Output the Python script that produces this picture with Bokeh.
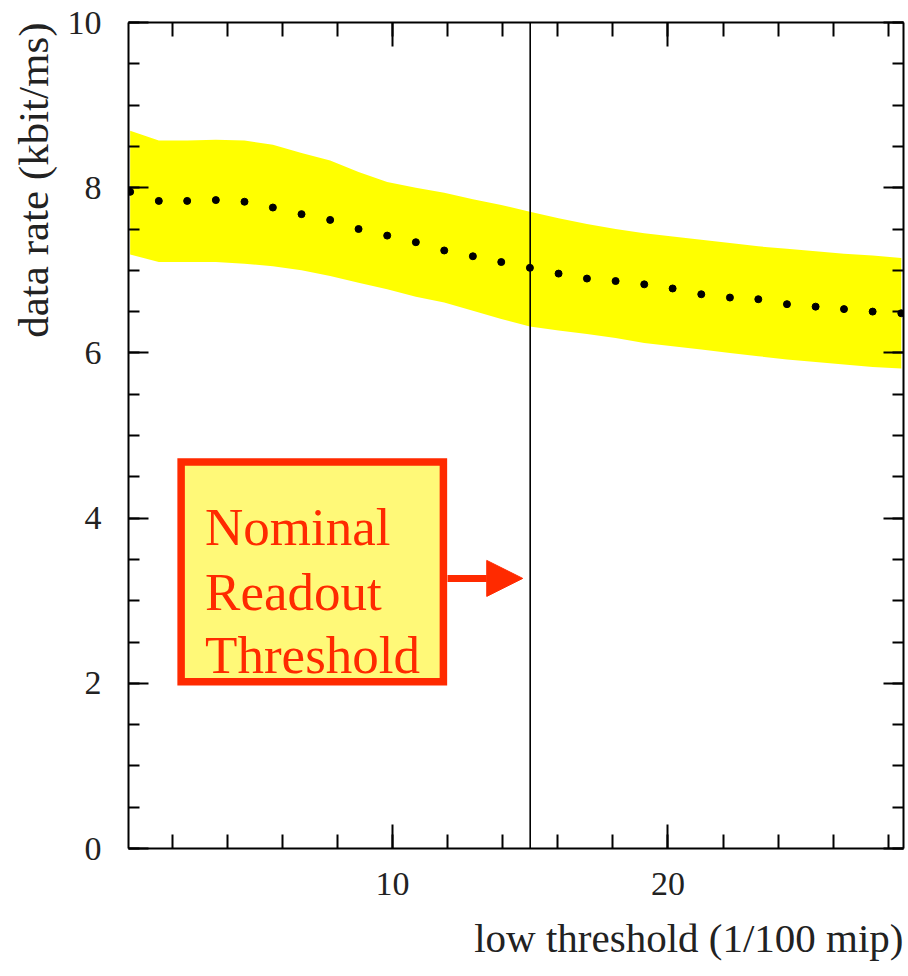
from bokeh.plotting import figure
from bokeh.models import (Range1d, LinearAxis, SingleIntervalTicker, Span, Arrow, NormalHead,
                          ColumnDataSource, CustomJSTickFormatter, Title)
from bokeh.core.properties import value
from bokeh.embed import file_html
from bokeh.resources import INLINE

# ---- data ----
threshold = [0.48, 1.52, 2.55, 3.59, 4.63, 5.66, 6.70, 7.74, 8.77, 9.81,
             10.85, 11.88, 12.92, 13.95, 14.99, 16.03, 17.06, 18.10, 19.14, 20.17,
             21.21, 22.25, 23.28, 24.32, 25.36, 26.39, 27.43, 28.47]
rate = [7.95, 7.84, 7.84, 7.85, 7.83, 7.76, 7.68, 7.61, 7.50, 7.42,
        7.34, 7.24, 7.17, 7.10, 7.03, 6.96, 6.90, 6.87, 6.83, 6.78,
        6.71, 6.67, 6.65, 6.59, 6.56, 6.53, 6.50, 6.48]
band_upper = [8.69, 8.57, 8.57, 8.58, 8.57, 8.52, 8.42, 8.33, 8.19, 8.07,
              8.00, 7.94, 7.86, 7.79, 7.71, 7.63, 7.56, 7.50, 7.45, 7.41,
              7.37, 7.33, 7.29, 7.26, 7.23, 7.20, 7.18, 7.15]
band_lower = [7.19, 7.10, 7.10, 7.10, 7.08, 7.05, 7.00, 6.93, 6.85, 6.77,
              6.68, 6.61, 6.51, 6.41, 6.32, 6.27, 6.23, 6.18, 6.12, 6.08,
              6.04, 6.00, 5.96, 5.92, 5.89, 5.86, 5.83, 5.81]
nominal_threshold = 15
note_lines = ["Nominal", "Readout", "Threshold"]
x_label = "low threshold (1/100 mip)"
y_label = "data rate (kbit/ms)"

FONT = "Liberation Serif"
RED = "#FF2A00"
TXT = "#222222"

src = ColumnDataSource(dict(x=threshold, y=rate, up=band_upper, lo=band_lower))

p = figure(width=908, height=976, x_range=Range1d(0.42, 28.55), y_range=Range1d(0, 10),
           output_backend="svg", toolbar_location=None,
           min_border_left=128, min_border_right=5, min_border_top=22, min_border_bottom=128)
p.grid.visible = False
p.outline_line_color = None
p.background_fill_color = "white"

p.varea(x="x", y1="lo", y2="up", source=src, fill_color="#FFFF00")
p.scatter(x="x", y="y", source=src, size=7, color="black")

p.add_layout(Span(location=nominal_threshold, dimension="height", line_color="black", line_width=1.6))

# annotation box
p.quad(left=2.33, right=11.85, bottom=2.02, top=4.68, fill_color="#FFF978",
       line_color=RED, line_width=7.5, line_join="miter")
p.text(x=[3.2, 3.2, 3.2], y=[3.887, 3.108, 2.34], text=note_lines,
       text_font=value(FONT), text_font_size="53px", text_color=RED,
       text_baseline="alphabetic", text_align="left")
p.add_layout(Arrow(x_start=12.0, y_start=3.27, x_end=14.73, y_end=3.27,
                   line_color=RED, line_width=7,
                   end=NormalHead(size=36, fill_color=RED, line_color=RED)))

def style_axis(ax, tick_in, minor_in, labels=True):
    ax.axis_line_width = 2
    ax.axis_line_color = "black"
    ax.major_tick_in = tick_in
    ax.major_tick_out = 0
    ax.minor_tick_in = minor_in
    ax.minor_tick_out = 0
    ax.major_tick_line_width = 2
    ax.minor_tick_line_width = 2
    ax.major_tick_line_color = "black"
    ax.minor_tick_line_color = "black"
    ax.major_label_text_font = FONT
    ax.major_label_text_color = TXT
    ax.major_label_text_font_size = "34px"
    if not labels:
        ax.formatter = CustomJSTickFormatter(code="return '';")
        ax.major_label_standoff = 0

xt = SingleIntervalTicker(interval=10, num_minor_ticks=5)
yt = SingleIntervalTicker(interval=2, num_minor_ticks=4)

p.xaxis.ticker = xt
p.yaxis.ticker = yt
style_axis(p.xaxis[0], 24, 14)
style_axis(p.yaxis[0], 20, 11)
p.xaxis.major_label_standoff = 24
p.yaxis.major_label_standoff = 27

top = LinearAxis(ticker=xt)
style_axis(top, 24, 14, labels=False)
p.add_layout(top, "above")
right = LinearAxis(ticker=yt)
style_axis(right, 20, 11, labels=False)
p.add_layout(right, "right")

# axis titles: x right-aligned, y aligned to the top
p.add_layout(Title(text=x_label, align="right", text_font=FONT, text_font_size="41px",
                   text_font_style="normal", text_color=TXT, standoff=31), "below")
p.add_layout(Title(text=y_label, align="right", text_font=FONT, text_font_size="43px",
                   text_font_style="normal", text_color=TXT, standoff=15), "left")

open("out.html", "w").write(file_html(p, INLINE))
